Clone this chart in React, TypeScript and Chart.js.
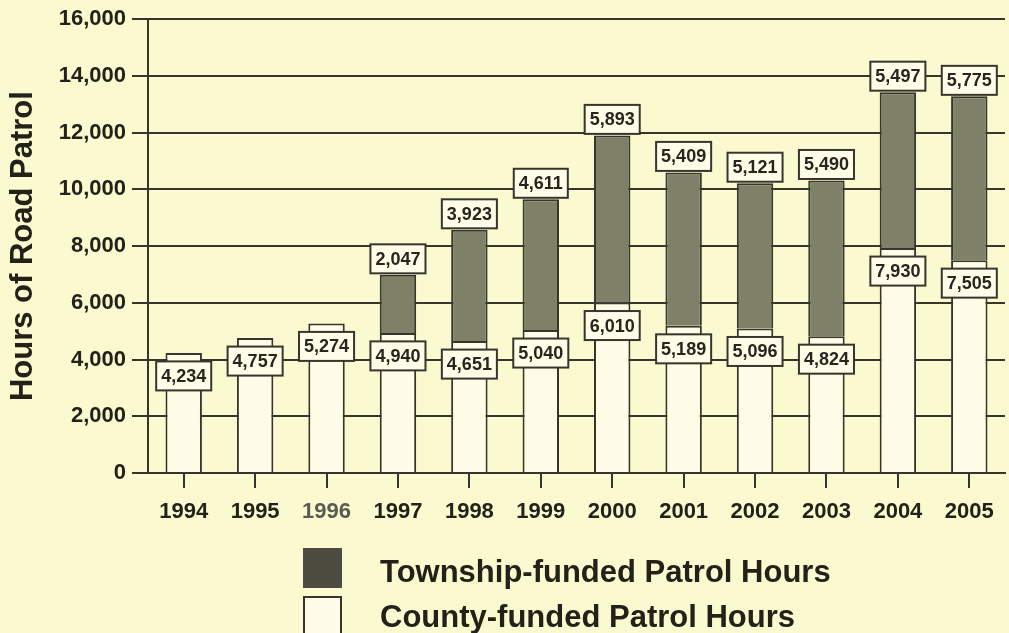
import React, { useEffect, useRef } from 'react';
import { Chart, registerables } from 'chart.js';

Chart.register(...registerables);

const years = ['1994', '1995', '1996', '1997', '1998', '1999', '2000', '2001', '2002', '2003', '2004', '2005'];
const countyHours = [4234, 4757, 5274, 4940, 4651, 5040, 6010, 5189, 5096, 4824, 7930, 7505];
const townshipHours: (number | null)[] = [null, null, null, 2047, 3923, 4611, 5893, 5409, 5121, 5490, 5497, 5775];
const yMin = 0;
const yMax = 16000;
const yStep = 2000;
const seriesNames = ['County-funded Patrol Hours', 'Township-funded Patrol Hours'];
const yTitle = 'Hours of Road Patrol';

const BG = '#fbf9cf';
const LINE = '#36362c';
const WHITE = '#fffde8';
const GRAY = '#7e8068';
const DARK = '#4c4d40';
const FONT = '"Liberation Sans", Arial, Helvetica, sans-serif';

const boxLabels = {
  id: 'boxLabels',
  afterDatasetsDraw(chart: any) {
    const ctx = chart.ctx;
    ctx.save();
    ctx.font = `bold 18px ${FONT}`;
    ctx.textAlign = 'center';
    ctx.textBaseline = 'middle';
    chart.data.datasets.forEach((ds: any, di: number) => {
      const meta = chart.getDatasetMeta(di);
      meta.data.forEach((el: any, i: number) => {
        const v = ds.data[i];
        if (v == null) return;
        const text = Number(v).toLocaleString('en-US');
        const cy = di === 0 ? el.y + 23 : el.y - 16;
        const w = ctx.measureText(text).width + 10;
        const h = 29;
        ctx.fillStyle = WHITE;
        ctx.fillRect(el.x - w / 2, cy - h / 2, w, h);
        ctx.lineWidth = 2;
        ctx.strokeStyle = LINE;
        ctx.strokeRect(el.x - w / 2, cy - h / 2, w, h);
        ctx.fillStyle = '#26261f';
        ctx.fillText(text, el.x, cy + 1);
      });
    });
    ctx.restore();
  },
};

export default function App() {
  const ref = useRef<HTMLCanvasElement | null>(null);

  useEffect(() => {
    if (!ref.current) return;
    const chart = new Chart(ref.current, {
      type: 'bar',
      data: {
        labels: years,
        datasets: [
          {
            label: seriesNames[0],
            data: countyHours,
            backgroundColor: WHITE,
            borderColor: LINE,
            borderWidth: 2,
            barPercentage: 0.51,
            categoryPercentage: 1,
          },
          {
            label: seriesNames[1],
            data: townshipHours,
            backgroundColor: GRAY,
            borderColor: LINE,
            borderWidth: 2,
            barPercentage: 0.51,
            categoryPercentage: 1,
          },
        ],
      },
      options: {
        responsive: false,
        animation: false,
        layout: { padding: { top: 19, right: 4, left: 0, bottom: 0 } },
        plugins: {
          legend: { display: false },
          tooltip: { enabled: false },
          title: { display: false },
        },
        scales: {
          x: {
            stacked: true,
            offset: true,
            grid: {
              display: true,
              drawOnChartArea: false,
              drawTicks: true,
              tickLength: 15,
              offset: false,
              color: LINE,
              lineWidth: 2,
            },
            border: { display: true, color: LINE, width: 2 },
            ticks: {
              color: (c: any) => (c.index === 2 ? '#5a5a50' : '#222219'),
              font: { family: FONT, size: 22, weight: 'bold' },
              padding: 11,
              maxRotation: 0,
            },
            afterFit: (scale: any) => {
              scale.height = 160;
            },
          },
          y: {
            stacked: true,
            min: yMin,
            max: yMax,
            ticks: {
              stepSize: yStep,
              color: '#222219',
              font: { family: FONT, size: 22, weight: 'bold' },
              padding: 6,
              callback: (v: any) => Number(v).toLocaleString('en-US'),
            },
            grid: {
              color: LINE,
              lineWidth: 2,
              tickLength: 16,
              drawTicks: true,
            },
            border: { display: true, color: LINE, width: 2 },
            title: {
              display: true,
              text: yTitle,
              color: '#222219',
              font: { family: FONT, size: 31, weight: 'bold' },
              padding: { top: 5, bottom: 0 },
            },
            afterFit: (scale: any) => {
              scale.width = 148;
            },
          },
        },
      },
      plugins: [boxLabels],
    });
    return () => chart.destroy();
  }, []);

  const textStyle: React.CSSProperties = {
    position: 'absolute',
    left: 380,
    fontFamily: FONT,
    fontWeight: 'bold',
    fontSize: 31,
    lineHeight: '32px',
    color: '#222219',
    whiteSpace: 'nowrap',
  };

  return (
    <div style={{ position: 'fixed', left: 0, top: 0, width: 1009, height: 633, background: BG, overflow: 'hidden' }}>
      <canvas ref={ref} width={1009} height={633} style={{ position: 'absolute', left: 0, top: 0, width: 1009, height: 633 }} />
      <div style={{ position: 'absolute', left: 303, top: 548, width: 39, height: 40, background: DARK }} />
      <div style={{ ...textStyle, top: 556 }}>{seriesNames[1]}</div>
      <div style={{ position: 'absolute', left: 303, top: 596, width: 35, height: 40, background: WHITE, border: `2px solid ${LINE}` }} />
      <div style={{ ...textStyle, top: 601 }}>{seriesNames[0]}</div>
    </div>
  );
}
